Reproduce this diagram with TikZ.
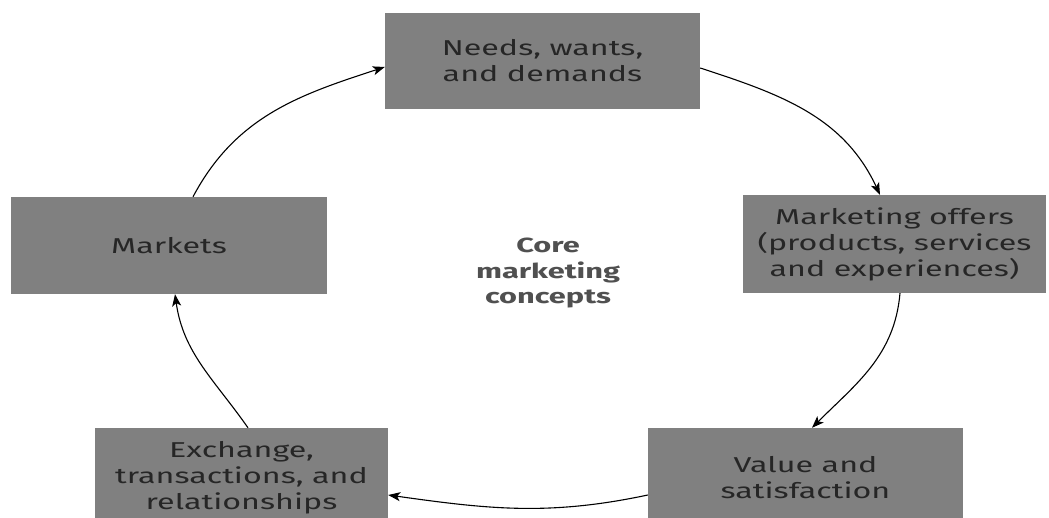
\documentclass[tikz,border=0pt]{standalone}
\usepackage{fontspec}
\newfontfamily\boxfont[FakeStretch=1.5]{Fira Sans}
\newfontfamily\boldfont[FakeStretch=1.5]{Fira Sans Bold}
\usetikzlibrary{arrows.meta}
\definecolor{boxgray}{HTML}{808080}
\definecolor{boxtext}{HTML}{262626}
\definecolor{coretext}{HTML}{505050}
\tikzset{
  conceptbox/.style={rectangle, fill=boxgray, draw=none, inner sep=0pt, align=center,
    text=boxtext, font=\boxfont\fontsize{21.5}{26}\selectfont},
  flow/.style={draw=black, line width=1.1pt, -{Stealth[length=12pt,width=9pt,inset=3pt]}},
}
\begin{document}
\begin{tikzpicture}[x=1pt,y=1pt]
\useasboundingbox (0,0) rectangle (1049,517);
\clip (0,0) rectangle (1049,517);
\node[conceptbox, minimum width=315pt, minimum height=96pt] (top) at (542.5,456) {Needs, wants,\\and demands};
\node[conceptbox, minimum width=303pt, minimum height=98pt] (right) at (894.5,273) {Marketing offers\\(products, services\\and experiences)};
\node[conceptbox, minimum width=315pt, minimum height=100pt] (br) at (805.5,39) {Value and\\satisfaction};
\node[conceptbox, minimum width=293pt, minimum height=100pt] (bl) at (241.5,39) {Exchange,\\transactions, and\\relationships};
\node[conceptbox, minimum width=316pt, minimum height=97pt] (mk) at (169,271.5) {Markets};
\node[align=center, text=coretext, font=\boldfont\fontsize{20.5}{25.5}\selectfont] (core) at (548,244) {Core\\marketing\\concepts};
\draw[flow] ([xshift=24pt]mk.north) to[out=62,in=198] ([yshift=-6pt]top.west);
\draw[flow] ([yshift=-7pt]top.east) to[out=-18,in=115] ([xshift=-14.5pt]right.north);
\draw[flow] ([xshift=5.5pt]right.south) to[out=-95,in=45] ([xshift=6.5pt]br.north);
\draw[flow] ([yshift=-17pt]br.west) to[out=192,in=-8] ([yshift=-17pt]bl.east);
\draw[flow] ([xshift=6.5pt]bl.north) to[out=125,in=-82] ([xshift=6pt]mk.south);
\end{tikzpicture}
\end{document}
